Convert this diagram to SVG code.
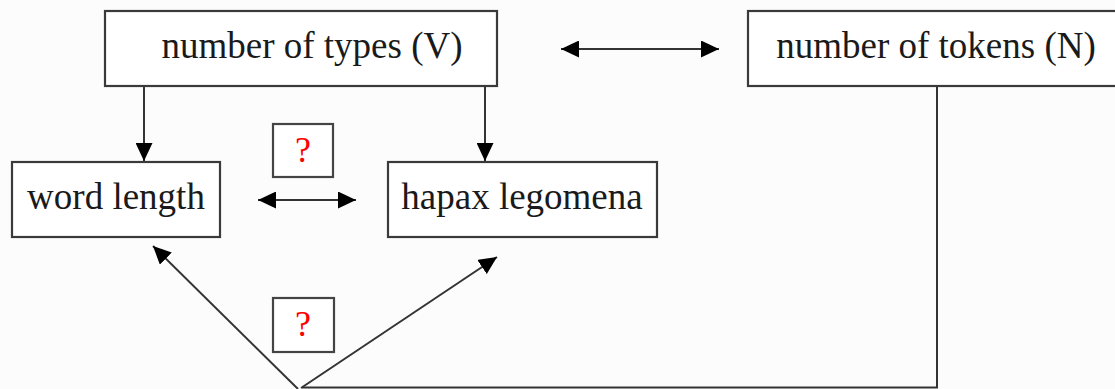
<svg xmlns="http://www.w3.org/2000/svg" width="1115" height="389" viewBox="0 0 1115 389">
  <style>
    .box { fill: #ffffff; stroke: #3a3a3a; stroke-width: 2.2; }
    .qbox { fill: #ffffff; stroke: #444444; stroke-width: 2.2; }
    .label { font-family: "Liberation Serif", "Times New Roman", serif; font-size: 37px; fill: #1a1a1a; text-anchor: middle; }
    .q { font-family: "Liberation Serif", "Times New Roman", serif; font-size: 36px; fill: #ff0000; text-anchor: middle; }
    .edge { fill: none; stroke: #333333; stroke-width: 2; }
  </style>
  <defs>
    <marker id="head" viewBox="0 0 18 17" refX="18" refY="8.5" markerWidth="18" markerHeight="17" markerUnits="userSpaceOnUse" orient="auto-start-reverse">
      <path d="M0,0 L18,8.5 L0,17 Z" fill="#000000"/>
    </marker>
  </defs>

  <rect width="1115" height="389" fill="#fcfcfc"/>

  <g id="connectors">
    <!-- types -> word length / hapax -->
    <line class="edge" x1="144" y1="86" x2="144" y2="161" marker-end="url(#head)"/>
    <line class="edge" x1="485" y1="86" x2="485" y2="161" marker-end="url(#head)"/>
    <!-- types <-> tokens -->
    <line class="edge" x1="561" y1="49" x2="719" y2="49" marker-start="url(#head)" marker-end="url(#head)"/>
    <!-- word length <-> hapax -->
    <line class="edge" x1="258" y1="200" x2="356" y2="200" marker-start="url(#head)" marker-end="url(#head)"/>
    <!-- tokens -> word length / hapax via bottom route -->
    <polyline class="edge" points="937,86 937,387.5 302,387.5"/>
    <line class="edge" x1="298" y1="389" x2="153" y2="246" marker-end="url(#head)"/>
    <line class="edge" x1="301" y1="388" x2="497" y2="257" marker-end="url(#head)"/>
  </g>

  <g id="node-types">
    <rect class="box" x="105" y="11" width="392" height="75"/>
    <text class="label" x="312" y="58">number of types (V)</text>
  </g>

  <g id="node-tokens">
    <rect class="box" x="748" y="11" width="380" height="75"/>
    <text class="label" x="936" y="58">number of tokens (N)</text>
  </g>

  <g id="node-wordlength">
    <rect class="box" x="12" y="162" width="208" height="75"/>
    <text class="label" x="116" y="209">word length</text>
  </g>

  <g id="node-hapax">
    <rect class="box" x="388" y="162" width="269" height="75"/>
    <text class="label" x="522" y="209">hapax legomena</text>
  </g>

  <g id="node-q1">
    <rect class="qbox" x="273" y="124" width="60" height="53"/>
    <text class="q" x="303" y="162">?</text>
  </g>

  <g id="node-q2">
    <rect class="qbox" x="273" y="298" width="61" height="54"/>
    <text class="q" x="303" y="336">?</text>
  </g>
</svg>
